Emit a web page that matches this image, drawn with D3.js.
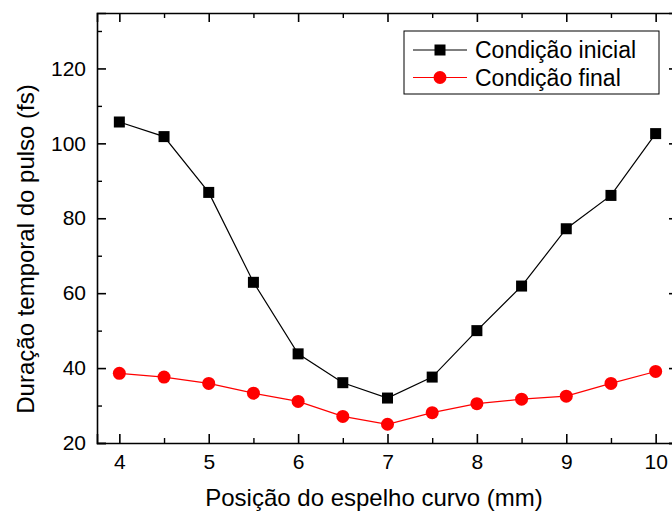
<!DOCTYPE html>
<html lang="pt">
<head>
<meta charset="UTF-8">
<title>Duração temporal do pulso</title>
<script src="https://d3js.org/d3.v7.min.js"></script>
<style>
  body { margin: 0; background: #fff; }
  svg { display: block; font-family: "Liberation Sans", Arial, sans-serif; }
</style>
</head>
<body>
<svg id="chart" width="672" height="512"></svg>
<script>
const positions = [4, 4.5, 5, 5.5, 6, 6.5, 7, 7.5, 8, 8.5, 9, 9.5, 10];
const initialDur = [105.7, 101.8, 86.9, 62.9, 43.8, 36.1, 32.0, 37.6, 50.0, 61.9, 77.2, 86.1, 102.6];
const finalDur = [38.6, 37.6, 35.9, 33.3, 31.1, 27.1, 25.0, 28.1, 30.5, 31.7, 32.5, 35.9, 39.1];
const xTicks = [4, 5, 6, 7, 8, 9, 10];
const yTicks = [20, 40, 60, 80, 100, 120];
const seriesNames = ["Condição inicial", "Condição final"];

const svg = d3.select("#chart");
const plotL = 97, plotT = 13, plotR = 678, plotB = 443;

const x = d3.scaleLinear().domain([3.75, 10.25]).range([plotL, plotR]);
const y = d3.scaleLinear().domain([20, 134.8]).range([plotB, plotT]);

const minorX = d3.range(3.5, 10.51, 0.5).filter(v => v > 3.75 && v < 10.25 && !xTicks.includes(v));
const minorY = d3.range(30, 135, 20);

// axes, ticks pointing inward on all four sides
function drawAxis(axis, transform, major, minor, labels) {
  const g = svg.append("g").attr("transform", transform)
    .call(axis.tickValues(major).tickSizeOuter(0).tickSize(-9).tickPadding(0)
      .tickFormat(labels ? d3.format("d") : ""));
  g.select(".domain").attr("stroke-width", 1.6);
  g.selectAll(".tick line").attr("stroke-width", 1.6);
  g.selectAll(".tick text").attr("font-size", 21).attr("fill", "#000");
  const gm = svg.append("g").attr("transform", transform)
    .call(axis.tickValues(minor).tickSize(-5).tickFormat(""));
  gm.select(".domain").remove();
  gm.selectAll(".tick line").attr("stroke-width", 1.4);
  return g;
}
const gx = drawAxis(d3.axisBottom(x), `translate(0,${plotB})`, xTicks, minorX, true);
drawAxis(d3.axisTop(x), `translate(0,${plotT})`, xTicks, minorX, false);
const gy = drawAxis(d3.axisLeft(y), `translate(${plotL},0)`, yTicks, minorY, true);
drawAxis(d3.axisRight(y), `translate(${plotR},0)`, yTicks, minorY, false);

gx.selectAll(".tick text").attr("y", 11);
gy.selectAll(".tick text").attr("x", -11);

// series
const line = d3.line().x((d, i) => x(positions[i])).y(d => y(d));

svg.append("path").datum(initialDur)
  .attr("fill", "none").attr("stroke", "#000").attr("stroke-width", 1.2)
  .attr("d", line);
svg.append("path").datum(finalDur)
  .attr("fill", "none").attr("stroke", "#ff0000").attr("stroke-width", 1.2)
  .attr("d", line);

const sq = 11;
svg.append("g").selectAll("rect").data(initialDur).join("rect")
  .attr("x", (d, i) => x(positions[i]) - sq / 2)
  .attr("y", d => y(d) - sq / 2)
  .attr("width", sq).attr("height", sq).attr("fill", "#000");

svg.append("g").selectAll("circle").data(finalDur).join("circle")
  .attr("cx", (d, i) => x(positions[i]))
  .attr("cy", d => y(d))
  .attr("r", 6.5).attr("fill", "#ff0000");

// axis titles
svg.append("text")
  .attr("x", 374).attr("y", 506)
  .attr("text-anchor", "middle").attr("font-size", 24)
  .text("Posição do espelho curvo (mm)");

svg.append("text")
  .attr("transform", "translate(34,249) rotate(-90)")
  .attr("text-anchor", "middle").attr("font-size", 24)
  .text("Duração temporal do pulso (fs)");

// legend
const lg = svg.append("g").attr("transform", "translate(404,31)");
lg.append("rect").attr("width", 255).attr("height", 63)
  .attr("fill", "#fff").attr("stroke", "#000").attr("stroke-width", 1);
const colors = ["#000", "#ff0000"];
seriesNames.forEach((name, i) => {
  const cy = 19 + i * 27.5;
  lg.append("line").attr("x1", 9).attr("x2", 63).attr("y1", cy).attr("y2", cy)
    .attr("stroke", colors[i]).attr("stroke-width", 1.2);
  if (i === 0) {
    lg.append("rect").attr("x", 36 - sq / 2).attr("y", cy - sq / 2)
      .attr("width", sq).attr("height", sq).attr("fill", "#000");
  } else {
    lg.append("circle").attr("cx", 36).attr("cy", cy).attr("r", 6.5).attr("fill", "#ff0000");
  }
  lg.append("text").attr("x", 71).attr("y", cy + 8)
    .attr("font-size", 23).text(name);
});
</script>
</body>
</html>
